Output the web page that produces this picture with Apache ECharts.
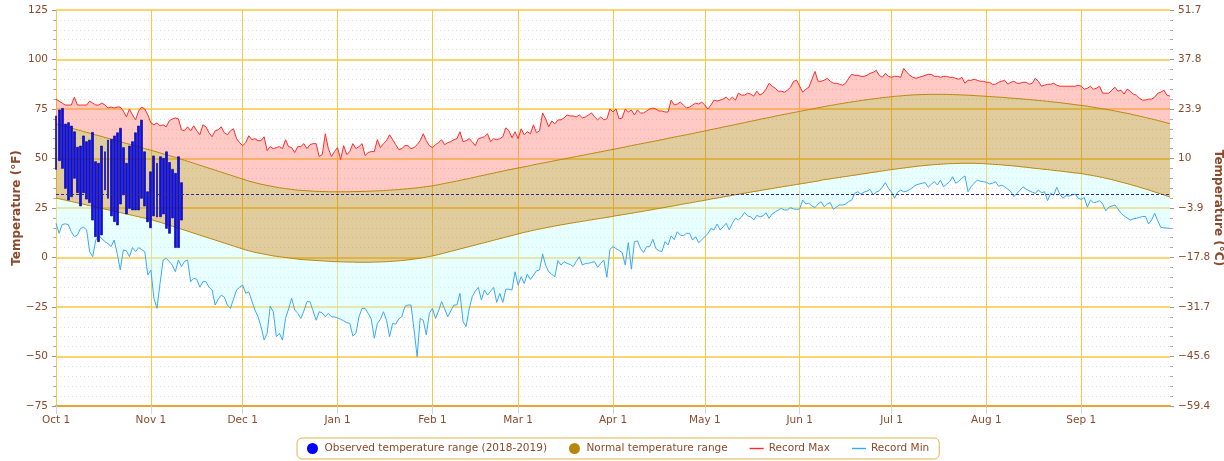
<!DOCTYPE html>
<html>
<head>
<meta charset="utf-8">
<title>Temperature</title>
<script src="https://cdn.jsdelivr.net/npm/echarts@6/dist/echarts.min.js"></script>
<style>
  html, body { margin: 0; padding: 0; background: #fff; }
  #main { width: 1224px; height: 461px; }
</style>
</head>
<body>
<div id="main"></div>
<script>
// months of the season, Oct 2018 - Sep 2019
var monthNames = ['Oct','Nov','Dec','Jan','Feb','Mar','Apr','May','Jun','Jul','Aug','Sep'];
var monthDays = [31,30,31,31,28,31,30,31,30,31,31,30];

// y ticks (°F)
var yMin = -75, yMax = 125, yStep = 25;
var freezing = 32;

// record max, one value per day (°F)
var recordMax = [
  80,79,78,77,77,77,81,77,77,77,
  77,79,78,77,77,78,77,75.5,76,75.5,
  76,76,74,71,75,72,69.5,74,76,75,
  72,68,67,68,66.5,67,66,69,70,70.5,
  70,64.5,64,66,64,66.5,64,62,67,66,
  63,61,64,64.5,66,63,62,64,65,60,
  58,56.5,58,61.5,59.5,60,59,59,61,54,
  56,55,55.5,56,55,59.5,56,55.5,53,56,
  56,57.5,55,57,57.5,57.5,51,52,62.5,55,
  51,53.5,55.5,49.5,56.5,52,53.5,57.5,55,56,
  57.5,51.5,53,53.5,53.5,59.5,55.5,57.5,59,62,
  59.5,57,54.5,55,56.5,56.5,55,55.5,57,59,
  62.5,59,56.5,55.5,57,58,59.5,57,58,58.5,
  59.5,60,63.5,58.5,59,60,58.5,56.5,60,60.5,
  61,62.5,58.5,60,59.5,60,61,65.5,64,60.5,
  63.5,60,65,62,63.5,62.5,67,63,64,73,
  70,66,69,67.5,69.5,69.5,70.5,72,71.5,71.5,
  71,72,70.5,71,72,73,71,69.5,71,69.5,
  70,75,73.5,75,70,70.5,75,73.5,74.5,72,
  74.5,73,73,74,75,75.5,75,74,74,73.5,
  73.5,79.5,77,77.5,78.5,77,75.5,76,77,78,
  77.5,78.5,77,75,77,79.5,79,79.5,80,81,
  79.5,81,79.5,83,82,82,83,82.5,81.5,84,
  82,83,85,88,86.5,85.5,84,84,83.5,84.5,
  86,89,89.5,86.5,83.5,85,86,90,94,89,
  89,89.5,90.5,89,88,88,87.5,87,88,90.5,
  92.5,92,92,91.5,91.5,92,93,93.5,94.5,92,
  91,93,91.5,91,91.5,91.5,91,95.5,93.5,92,
  91,90.5,91,91.5,92,92.5,92.5,91.5,91.5,91,
  91.5,91.5,91,91,90.5,90,91,88,89.5,89.5,
  90,89.5,89,89,88.5,88.5,87.5,87.5,88.5,89,
  89.5,87.5,88.5,89,88,88,88.5,88.5,87.5,88,
  90.5,89,86.5,87,87.5,87.5,88,87,86.5,86.5,
  86.5,86.5,86.5,86.5,87,86.5,85,85.5,86.5,85,
  85.5,86.5,83,83,83,84.5,86,84,84.5,82.5,
  85,84,82.5,82,80.5,79.5,79.5,80,80,81,
  83,83.5,84.5,82,81.5
];

// record min, one value per day (°F)
var recordMin = [
  17.3,12.2,16.6,17,16.6,13,10.5,11.3,14.7,15.3,
  14,2.9,0.4,8.8,10.9,9.5,8,7,5.5,8.8,
  2,-6.3,3.8,3.4,0.4,5,2.9,5,4,2.9,
  -8.8,-6.3,-20.6,-25.7,-13.1,-1.3,-0.4,-2,-3.8,-7.2,
  -1.3,-4.6,-2,-1.3,-12.2,-10.5,-11,-15,-12.2,-12.2,
  -15,-16.4,-24,-21,-19,-20,-24,-25.7,-21,-16.4,
  -15,-13.9,-18.1,-17.3,-22,-26.5,-29.9,-34.9,-41.7,-38.3,
  -24.5,-27.4,-40,-38.3,-41.7,-30.7,-26,-20.6,-26.5,-28.2,
  -30.8,-27,-22.3,-22.3,-27,-31.7,-27.4,-28,-29.9,-28.2,
  -29.9,-30,-30.5,-31.2,-32,-32.9,-33.3,-39.6,-38.3,-30,
  -25.7,-25.7,-28.2,-31,-40.8,-33.3,-31.2,-27.4,-31.7,-40,
  -33.3,-33.7,-31,-29.9,-24.8,-24,-24,-36.6,-50.1,-30.8,
  -31.7,-39.1,-28.2,-25.7,-30.8,-27,-22.3,-26,-29.9,-27,
  -24,-24,-18.1,-32.4,-34.9,-26,-19.8,-17,-15.1,-21.5,
  -16.4,-19,-17,-15.1,-22.7,-18.1,-22.7,-16,-16,-16.4,
  -7.2,-14,-9.7,-13.1,-8.4,-11.1,-9,-6.7,-6.3,1.8,
  -4,-7.2,-8.5,-9.7,-1.6,-3.8,-2.1,-3,-3.5,-4.6,
  -2,0.4,-3.8,-3,-2.9,-2.5,-2.1,-5,-3,-1.3,
  -10,4.1,5.5,4.5,3.5,2.5,-3.8,7.5,-5.9,8,
  8.4,4.5,2.5,5.5,5.5,9.2,4.5,3.4,3,8,
  6.3,10.9,9,13,11.3,11,12.2,12.2,8.8,10.5,
  7.5,9,10.5,12,14.7,13.9,16.9,13.9,15.5,17.3,
  13.9,17.3,19.8,19,20.5,22.8,21,20.5,19,21.3,
  20.5,21,22.6,19.8,22,23,24,24.8,24,24,
  25.2,24.5,24.3,24.5,29,27,27.4,26,25.2,27,
  28.2,25.6,27,27.7,24.3,25.5,26.5,26.5,27,28.2,
  29,32.4,33.2,32,33,33.5,34.4,31.6,33,33.7,
  35.5,37.8,35,33,29.9,33,34.1,33.2,33.5,34.4,
  35.5,36.6,37.1,37.5,37.8,35.5,37,38.3,36.6,39.1,
  35.7,37,38.3,40.8,37.5,38.5,40,41.2,33.2,35.7,
  37.5,39.1,38.5,38.3,38,37.1,37.5,38.3,36,36.5,
  35.7,34.5,33.2,30.7,32.4,34,35.7,34.5,33.7,33,
  32.4,34.1,32.7,33.2,28.7,32.4,31.5,35.5,32,29.9,
  31.2,31,31.6,32,30,29.3,30.3,25.4,29,27.7,
  28,28.7,27,23.6,25.4,26,26.5,24.5,22.3,21,
  20,18.9,19.5,19.8,20.2,20.7,20.7,16.9,19,22.3,
  18.5,15.2,15,14.8,14.7
];

// normal high, one value per day (°F)
var normalHigh = [
  67.5,67.1,66.6,66.2,65.8,65.4,64.9,64.5,64.1,63.6,
  63.2,62.8,62.3,61.9,61.5,61.1,60.6,60.2,59.8,59.3,
  58.9,58.5,58.0,57.6,57.2,56.8,56.3,55.9,55.5,55.0,
  54.6,54.2,53.7,53.3,52.8,52.4,51.9,51.5,51.0,50.6,
  50.1,49.6,49.1,48.6,48.1,47.6,47.1,46.6,46.1,45.6,
  45.1,44.6,44.1,43.6,43.1,42.6,42.1,41.6,41.1,40.6,
  40.1,39.6,39.1,38.6,38.2,37.8,37.4,37.0,36.7,36.4,
  36.1,35.8,35.5,35.2,35.0,34.8,34.6,34.4,34.2,34.0,
  33.9,33.8,33.7,33.6,33.5,33.4,33.4,33.3,33.3,33.2,
  33.2,33.2,33.2,33.2,33.2,33.2,33.2,33.3,33.3,33.3,
  33.4,33.4,33.5,33.5,33.6,33.7,33.7,33.8,33.9,34.0,
  34.1,34.2,34.3,34.5,34.6,34.7,34.9,35.0,35.2,35.4,
  35.6,35.8,36.0,36.2,36.5,36.8,37.1,37.4,37.7,38.0,
  38.3,38.6,38.9,39.3,39.6,39.9,40.3,40.6,41.0,41.3,
  41.6,42.0,42.3,42.6,43.0,43.3,43.6,44.0,44.3,44.6,
  44.9,45.2,45.5,45.8,46.1,46.4,46.8,47.1,47.4,47.7,
  48.0,48.3,48.6,48.9,49.2,49.5,49.8,50.1,50.4,50.7,
  51.0,51.3,51.6,51.9,52.2,52.5,52.8,53.1,53.4,53.7,
  54.0,54.3,54.6,54.9,55.2,55.5,55.8,56.2,56.5,56.8,
  57.1,57.4,57.7,58.0,58.3,58.6,58.9,59.2,59.5,59.8,
  60.2,60.5,60.8,61.1,61.4,61.7,62.0,62.3,62.6,63.0,
  63.3,63.6,63.9,64.2,64.6,64.9,65.2,65.5,65.9,66.2,
  66.5,66.8,67.2,67.5,67.8,68.1,68.5,68.8,69.1,69.4,
  69.8,70.1,70.4,70.7,71.0,71.4,71.7,72.0,72.3,72.6,
  72.9,73.2,73.5,73.8,74.1,74.4,74.7,75.0,75.3,75.6,
  75.9,76.2,76.5,76.8,77.0,77.3,77.6,77.8,78.1,78.3,
  78.6,78.8,79.0,79.3,79.5,79.7,79.9,80.1,80.3,80.5,
  80.7,80.9,81.0,81.2,81.4,81.5,81.6,81.8,81.9,82.0,
  82.1,82.2,82.2,82.3,82.3,82.4,82.4,82.4,82.4,82.4,
  82.4,82.4,82.3,82.3,82.2,82.2,82.1,82.0,82.0,81.9,
  81.8,81.7,81.6,81.5,81.4,81.3,81.2,81.1,81.0,80.9,
  80.8,80.6,80.5,80.4,80.3,80.2,80.0,79.9,79.8,79.6,
  79.5,79.3,79.2,79.0,78.9,78.7,78.5,78.4,78.2,78.0,
  77.8,77.6,77.4,77.2,77.0,76.8,76.6,76.4,76.1,75.9,
  75.6,75.4,75.1,74.9,74.6,74.3,74.0,73.7,73.4,73.1,
  72.8,72.5,72.1,71.8,71.4,71.1,70.7,70.3,70.0,69.6,
  69.2,68.8,68.4,68.0,67.6
];

// normal low, one value per day (°F)
var normalLow = [
  30.0,29.7,29.3,29.0,28.6,28.3,27.9,27.6,27.2,26.9,
  26.5,26.2,25.8,25.5,25.1,24.8,24.4,24.1,23.7,23.4,
  23.0,22.7,22.3,22.0,21.6,21.3,20.9,20.6,20.2,19.9,
  19.5,19.1,18.7,18.2,17.8,17.3,16.8,16.3,15.8,15.3,
  14.8,14.3,13.8,13.3,12.8,12.3,11.8,11.3,10.8,10.3,
  9.8,9.3,8.8,8.3,7.8,7.3,6.8,6.3,5.8,5.3,
  4.8,4.3,3.8,3.4,3.0,2.6,2.3,2.0,1.7,1.4,
  1.1,0.8,0.6,0.4,0.2,0.0,-0.2,-0.4,-0.6,-0.8,
  -1.0,-1.1,-1.2,-1.3,-1.4,-1.5,-1.6,-1.7,-1.8,-1.9,
  -2.0,-2.1,-2.1,-2.2,-2.2,-2.3,-2.3,-2.3,-2.4,-2.4,
  -2.4,-2.4,-2.4,-2.4,-2.3,-2.3,-2.2,-2.2,-2.1,-2.0,
  -1.9,-1.8,-1.7,-1.5,-1.4,-1.2,-1.0,-0.8,-0.6,-0.4,
  -0.1,0.2,0.5,0.8,1.1,1.5,1.9,2.3,2.7,3.1,
  3.5,3.9,4.3,4.7,5.1,5.5,5.9,6.3,6.7,7.1,
  7.5,7.9,8.3,8.7,9.1,9.5,9.9,10.3,10.7,11.1,
  11.5,11.9,12.3,12.7,13.0,13.4,13.7,14.1,14.4,14.7,
  15.0,15.3,15.6,15.9,16.2,16.5,16.7,17.0,17.3,17.5,
  17.8,18.0,18.3,18.5,18.8,19.0,19.3,19.5,19.8,20.0,
  20.3,20.5,20.8,21.1,21.3,21.6,21.8,22.1,22.3,22.6,
  22.9,23.1,23.4,23.7,23.9,24.2,24.5,24.8,25.0,25.3,
  25.6,25.9,26.1,26.4,26.7,27.0,27.3,27.5,27.8,28.1,
  28.4,28.6,28.9,29.2,29.5,29.8,30.0,30.3,30.6,30.9,
  31.1,31.4,31.7,31.9,32.2,32.5,32.7,33.0,33.3,33.5,
  33.8,34.1,34.3,34.6,34.8,35.1,35.4,35.6,35.9,36.1,
  36.4,36.6,36.9,37.1,37.4,37.6,37.9,38.1,38.4,38.6,
  39.0,39.3,39.5,39.7,40.0,40.2,40.4,40.7,40.9,41.1,
  41.4,41.6,41.8,42.1,42.3,42.5,42.8,43.0,43.2,43.5,
  43.7,43.9,44.2,44.4,44.6,44.8,45.0,45.2,45.4,45.6,
  45.8,46.0,46.2,46.3,46.5,46.6,46.8,46.9,47.0,47.1,
  47.2,47.3,47.4,47.4,47.5,47.5,47.6,47.6,47.6,47.6,
  47.6,47.5,47.5,47.4,47.3,47.2,47.1,47.0,46.9,46.8,
  46.6,46.5,46.4,46.2,46.1,45.9,45.7,45.6,45.4,45.2,
  45.0,44.9,44.7,44.5,44.4,44.2,44.0,43.8,43.7,43.5,
  43.3,43.1,42.9,42.7,42.6,42.4,42.1,41.8,41.6,41.3,
  41.0,40.7,40.4,40.0,39.7,39.3,38.9,38.5,38.1,37.7,
  37.3,36.9,36.4,36.0,35.5,35.0,34.6,34.1,33.6,33.1,
  32.6,32.1,31.6,31.1,30.5
];

// observed 2018-2019, Oct 1 .. Nov 11 (°F)
var obsHigh = [71.5,74.5,75.3,67.4,68.1,66.4,63.5,55.7,56.3,61.4,
  58.5,59.3,63.2,48.4,47.6,56.3,53.4,59.3,59.7,61.4,
  63,65.3,55.5,47.6,56.3,58.5,63,66.4,69.4,53.4,
  33.2,43.3,51.3,47.6,50.9,50.1,53.4,48,44.5,42.5,
  50.9,37.8];
var obsLow = [44.5,48.9,45,34.9,29,30.7,40,32.7,26,32.7,
  29.5,27.7,18.9,10.5,8,11.4,34.1,29.9,21,18.1,
  16.4,27,31.6,22,24.8,24,24,24,29.9,26,
  18,15,21,20.5,20.6,22,14.7,12.2,20,5,
  5,18.9];

// category per day, month starts get a label, tick and grid line
var days = [], monthStart = {};
monthNames.forEach(function(m, i){
  monthStart[days.length] = true;
  for (var d = 1; d <= monthDays[i]; d++) days.push(m + ' ' + d);
});
function isMonthStart(idx){ return !!monthStart[idx]; }

var lowBand = normalLow.map(function(v, i){ return +(v - recordMin[i]).toFixed(1); });
var normBand = normalHigh.map(function(v, i){ return +(v - normalLow[i]).toFixed(1); });
var highBand = recordMax.map(function(v, i){ return +(v - normalHigh[i]).toFixed(1); });
var obsData = obsHigh.map(function(h, i){ return [obsLow[i], h, obsLow[i], h]; });

var brown = '#8b4a2b';
var gold = '#f8c943';
var minus = function(s){ return String(s).replace('-', '\u2212'); };
var lineIcon = 'path://M0,0H24V2.4H0Z';

var myChart = echarts.init(document.getElementById('main'));

var option = {
  animation: false,
  textStyle: { fontFamily: 'DejaVu Sans' },
  grid: { left: 56, right: 54, top: 10, bottom: 55, outerBoundsMode: 'none' },
  legend: {
    bottom: 2,
    left: 297,
    padding: [5, 10],
    itemGap: 22,
    itemWidth: 14,
    itemHeight: 11,
    borderColor: '#e2b446',
    borderWidth: 1,
    borderRadius: 5,
    textStyle: { color: brown, fontSize: 10.5 },
    data: [
      { name: 'Observed temperature range (2018-2019)', icon: 'circle', itemStyle: { color: '#0000ff', borderWidth: 0 } },
      { name: 'Normal temperature range', icon: 'circle', itemStyle: { color: '#b8860b', borderWidth: 0 } },
      { name: 'Record Max', icon: lineIcon, itemStyle: { color: '#ff2a2a', borderWidth: 0 } },
      { name: 'Record Min', icon: lineIcon, itemStyle: { color: '#3aa8f8', borderWidth: 0 } }
    ]
  },
  xAxis: {
    type: 'category',
    data: days,
    boundaryGap: false,
    axisLine: { onZero: false, lineStyle: { color: '#e5a52e', width: 2 } },
    axisTick: { interval: isMonthStart, length: 8, lineStyle: { color: '#ccd6eb' } },
    axisLabel: { interval: isMonthStart, color: brown, fontSize: 10.5, margin: 9 },
    splitLine: { show: true, interval: isMonthStart, lineStyle: { color: gold, width: 1 } }
  },
  yAxis: [{
    type: 'value',
    min: yMin, max: yMax, interval: yStep,
    name: 'Temperature (°F)',
    nameLocation: 'middle',
    nameGap: 33,
    nameMoveOverlap: false,
    nameTextStyle: { color: brown, fontWeight: 'bold', fontSize: 12 },
    axisLine: { show: false },
    axisTick: { show: true, length: 4, lineStyle: { color: '#999' } },
    minorTick: { show: true, splitNumber: 5, length: 3, lineStyle: { color: '#aaa' } },
    axisLabel: { color: brown, fontSize: 10.5, margin: 8, formatter: function(v){ return minus(v); } },
    splitLine: { lineStyle: { color: gold, width: 1.5 } },
    minorSplitLine: { show: true, lineStyle: { color: '#dcdcdc', type: [1, 3] } }
  }, {
    type: 'value',
    position: 'right',
    min: yMin, max: yMax, interval: yStep,
    name: 'Temperature (°C)',
    nameLocation: 'middle',
    nameRotate: -90,
    nameGap: 42,
    nameMoveOverlap: false,
    nameTextStyle: { color: brown, fontWeight: 'bold', fontSize: 12 },
    axisLine: { show: false },
    axisTick: { show: true, length: 4, lineStyle: { color: '#999' } },
    minorTick: { show: true, splitNumber: 5, length: 3, lineStyle: { color: '#aaa' } },
    axisLabel: {
      color: brown, fontSize: 10.5, margin: 8,
      formatter: function(v){
        var s = ((v - 32) * 5 / 9).toFixed(1).replace(/\.0$/, '');
        return minus(s);
      }
    },
    splitLine: { show: false }
  }],
  series: [{
    name: 'Record Min',
    type: 'line',
    stack: 'temp', stackStrategy: 'all',
    data: recordMin,
    symbol: 'none',
    lineStyle: { color: '#3aa8f8', width: 1 },
    itemStyle: { color: '#3aa8f8' },
    z: 3,
    markLine: {
      silent: true,
      symbol: 'none',
      label: { show: false },
      lineStyle: { color: '#2b2b9e', width: 1, type: [3, 2] },
      data: [{ yAxis: freezing }]
    }
  }, {
    name: 'lowBand',
    type: 'line',
    stack: 'temp', stackStrategy: 'all',
    data: lowBand,
    symbol: 'none',
    lineStyle: { color: '#b8860b', width: 1 },
    areaStyle: { color: 'rgba(200,255,255,0.6)' },
    z: 2
  }, {
    name: 'Normal temperature range',
    type: 'line',
    stack: 'temp', stackStrategy: 'all',
    data: normBand,
    symbol: 'none',
    lineStyle: { color: '#b8860b', width: 1 },
    itemStyle: { color: '#b8860b' },
    areaStyle: { color: 'rgba(176,124,4,0.56)' },
    z: 2
  }, {
    name: 'Record Max',
    type: 'line',
    stack: 'temp', stackStrategy: 'all',
    data: highBand,
    symbol: 'none',
    lineStyle: { color: '#ff2a2a', width: 1 },
    itemStyle: { color: '#ff2a2a' },
    areaStyle: { color: 'rgba(255,95,85,0.48)' },
    z: 2
  }, {
    name: 'Observed temperature range (2018-2019)',
    type: 'candlestick',
    data: obsData,
    barWidth: 2.4,
    itemStyle: { color: '#0a0aff', borderColor: '#000090', borderWidth: 0.6, color0: '#0a0aff', borderColor0: '#000090' },
    z: 4
  }]
};

myChart.setOption(option);
</script>
</body>
</html>
